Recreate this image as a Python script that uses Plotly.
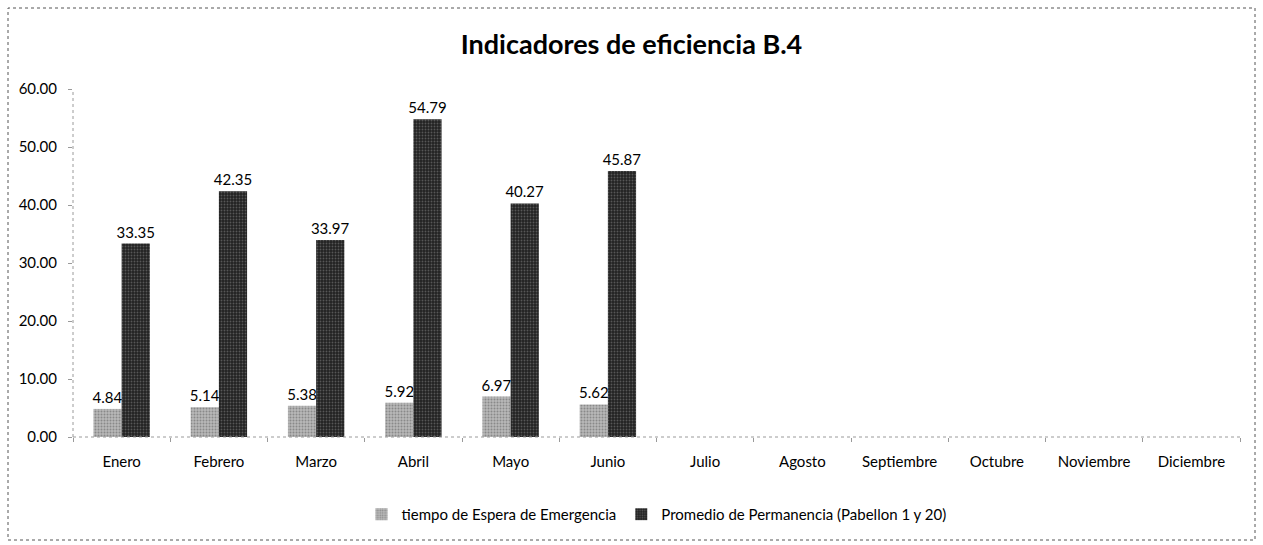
import plotly.graph_objects as go

meses = ["Enero", "Febrero", "Marzo", "Abril", "Mayo", "Junio", "Julio",
         "Agosto", "Septiembre", "Octubre", "Noviembre", "Diciembre"]
espera = [4.84, 5.14, 5.38, 5.92, 6.97, 5.62, None, None, None, None, None, None]
permanencia = [33.35, 42.35, 33.97, 54.79, 40.27, 45.87, None, None, None, None, None, None]
y_ticks = [0, 10, 20, 30, 40, 50, 60]

FONT = "Lato, 'Open Sans', sans-serif"


def labels(vals):
    return [f"{v:.2f}" if v is not None else "" for v in vals]


fig = go.Figure()
fig.add_trace(go.Bar(
    x=meses, y=espera, name="tiempo de Espera de Emergencia",
    marker=dict(color="#b4b4b4", line=dict(width=0),
                pattern=dict(shape=".", bgcolor="#b8b8b8", fgcolor="#5a5a5a",
                             size=3, solidity=0.35)),
    text=labels(espera), textposition="outside", cliponaxis=False,
    constraintext="none",
    textfont=dict(size=15, color="black", family=FONT),
))
fig.add_trace(go.Bar(
    x=meses, y=permanencia, name="Promedio de Permanencia (Pabellon 1 y 20)",
    marker=dict(color="#262626", line=dict(width=0),
                pattern=dict(shape=".", bgcolor="#222222", fgcolor="#8c8c8c",
                             size=3, solidity=0.3)),
    text=labels(permanencia), textposition="outside", cliponaxis=False,
    constraintext="none",
    textfont=dict(size=15, color="black", family=FONT),
))

# outer dashed frame of the chart area
fig.add_shape(type="rect", xref="paper", yref="paper",
              x0=(8 - 73) / 1167, x1=(1255 - 73) / 1167,
              y0=(437 - 540) / 348, y1=(437 - 8) / 348,
              line=dict(color="#555555", width=1, dash="dot"), layer="below")
# dotted axis lines
fig.add_shape(type="line", xref="paper", yref="paper", x0=0, x1=0, y0=0, y1=1,
              line=dict(color="#9a9a9a", width=1, dash="dot"))
fig.add_shape(type="line", xref="paper", yref="paper", x0=0, x1=1, y0=0, y1=0,
              line=dict(color="#9a9a9a", width=1, dash="dot"))

fig.update_layout(
    width=1263, height=545,
    margin=dict(l=73, r=23, t=89, b=108),
    paper_bgcolor="white", plot_bgcolor="white",
    font=dict(family=FONT, size=15, color="black"),
    title=dict(text="<b>Indicadores de eficiencia B.4</b>", x=0.5, xanchor="center",
               y=1 - 45 / 545, yanchor="middle",
               font=dict(size=27, family=FONT, color="black")),
    barmode="group", bargap=0.42, bargroupgap=0,
    showlegend=True,
    legend=dict(orientation="h", x=0.5, xanchor="center", y=-0.175, yanchor="top",
                font=dict(size=15, family=FONT), itemwidth=30,
                tracegroupgap=40),
    xaxis=dict(type="category", categoryorder="array", categoryarray=meses,
               showgrid=False, showline=False, ticks="outside", tickson="boundaries",
               ticklen=4, tickcolor="#9a9a9a", tickfont=dict(size=15),
               ticklabelstandoff=14, zeroline=False),
    yaxis=dict(range=[0, 60], tickvals=y_ticks, tickformat=".2f",
               showgrid=False, showline=False, zeroline=False,
               ticks="outside", ticklen=4, tickcolor="#9a9a9a",
               ticklabelstandoff=8, tickfont=dict(size=15)),
)

fig.write_html("out.html")
